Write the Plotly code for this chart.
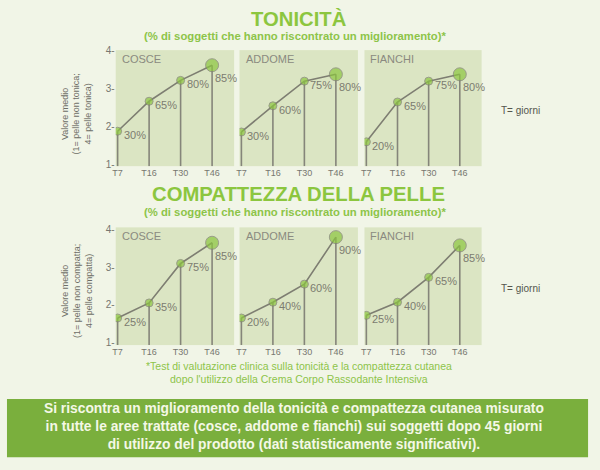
import plotly.graph_objects as go
from plotly.subplots import make_subplots

# dati
tempi = ["T7", "T16", "T30", "T46"]
zone = ["COSCE", "ADDOME", "FIANCHI"]

tonicita_cosce = [1.88, 2.67, 3.22, 3.62]
tonicita_addome = [1.86, 2.55, 3.20, 3.38]
tonicita_fianchi = [1.60, 2.65, 3.20, 3.38]
tonicita_pct_cosce = [30, 65, 80, 85]
tonicita_pct_addome = [30, 60, 75, 80]
tonicita_pct_fianchi = [20, 65, 75, 80]

compattezza_cosce = [1.65, 2.05, 3.10, 3.65]
compattezza_addome = [1.65, 2.07, 2.55, 3.80]
compattezza_fianchi = [1.72, 2.07, 2.73, 3.58]
compattezza_pct_cosce = [25, 35, 75, 85]
compattezza_pct_addome = [20, 40, 60, 90]
compattezza_pct_fianchi = [25, 40, 65, 85]

y_ticks = [1, 2, 3, 4]
y_ticktext = ["1-", "2-", "3-", "4-"]

W, H = 600, 470
FONT = "Liberation Sans, Arial, sans-serif"
VERDE = "#8cc63f"
VERDE_TXT = "#8dc449"
GRIGIO = "#7e7e72"
SFONDO = "#f1f5e7"
PANNELLO = "#dbe5c3"

def px_x(v):
    return v / W

def px_y(v):
    return 1 - v / H

def testo(t, x, y, size, color, **kw):
    # annotazione di testo in coordinate pixel della pagina
    opts = dict(xanchor="center", yanchor="middle")
    opts.update(kw)
    fig.add_annotation(x=px_x(x), y=px_y(y), xref="paper", yref="paper",
                       text=t, showarrow=False,
                       font=dict(family=FONT, size=size, color=color), **opts)

fig = make_subplots(rows=2, cols=3)

x_domains = [(113.3, 232.3), (237.7, 356.7), (363.3, 481.0)]
y_domains = [(46.0, 164.3), (226.7, 346.7)]
y_ranges = [[0.959, 4.018], [0.93, 4.06]]

righe = [
    ([tonicita_cosce, tonicita_addome, tonicita_fianchi],
     [tonicita_pct_cosce, tonicita_pct_addome, tonicita_pct_fianchi]),
    ([compattezza_cosce, compattezza_addome, compattezza_fianchi],
     [compattezza_pct_cosce, compattezza_pct_addome, compattezza_pct_fianchi]),
]

pos = list(range(len(tempi)))

for r, (valori, percentuali) in enumerate(righe):
    base = y_ranges[r][0]
    for c in range(3):
        vals = valori[c]
        pct = percentuali[c]
        # linee verticali fino alla base
        vx, vy = [], []
        for i, v in enumerate(vals):
            vx += [i, i, None]
            vy += [base, v, None]
        fig.add_trace(go.Scatter(x=vx, y=vy, mode="lines",
                                 line=dict(color="#85857a", width=1.6),
                                 hoverinfo="skip", showlegend=False),
                      row=r + 1, col=c + 1)
        # linea che collega i punti
        fig.add_trace(go.Scatter(x=pos, y=vals, mode="lines+markers",
                                 line=dict(color=GRIGIO, width=1.6),
                                 marker=dict(color=VERDE, size=[8, 8, 8, 13]),
                                 showlegend=False),
                      row=r + 1, col=c + 1)
        xa = "x" if (r * 3 + c) == 0 else "x%d" % (r * 3 + c + 1)
        ya = "y" if (r * 3 + c) == 0 else "y%d" % (r * 3 + c + 1)
        for i, v in enumerate(vals):
            big = i == len(vals) - 1
            fig.add_annotation(x=i, y=v, xref=xa, yref=ya,
                               text="%d%%" % pct[i], showarrow=False,
                               xanchor="left", yanchor="middle",
                               xshift=1 if big else 4,
                               yshift=-13 if big else -4,
                               font=dict(family=FONT, size=11, color="#7c7c70"))
        # nome della zona
        fig.add_annotation(x=0, y=1, xref=xa + " domain", yref=ya + " domain",
                           text=zone[c], showarrow=False,
                           xanchor="left", yanchor="top", xshift=4, yshift=-1,
                           font=dict(family=FONT, size=11, color="#8a8a80"))
        fig.update_xaxes(domain=[px_x(x_domains[c][0]), px_x(x_domains[c][1])],
                         range=[-0.06, 3.7], tickvals=pos, ticktext=tempi,
                         showgrid=False, zeroline=False, showline=False,
                         tickfont=dict(family=FONT, size=9, color="#777770"),
                         row=r + 1, col=c + 1)
        fig.update_yaxes(domain=[px_y(y_domains[r][1]), px_y(y_domains[r][0])],
                         range=y_ranges[r], tickvals=y_ticks, ticktext=y_ticktext,
                         showticklabels=(c == 0),
                         showgrid=False, zeroline=False, showline=False,
                         tickfont=dict(family=FONT, size=10, color="#777770"),
                         row=r + 1, col=c + 1)

# titoli
titoli = [("TONICITÀ", 14, 31.5), ("COMPATTEZZA DELLA PELLE", 193, 211)]
for t, y_tit, y_sub in titoli:
    testo("<b>%s</b>" % t, 297, y_tit, 20.3, VERDE)
    testo("<b>(% di soggetti che hanno riscontrato un miglioramento)*</b>",
          293, y_sub, 11.3, VERDE_TXT)

# titoli asse y
assi_y = [("Valore medio<br>(1= pelle non tonica;<br>4= pelle tonica)", 111),
          ("Valore medio<br>(1= pelle non compatta;<br>4= pelle compatta)", 292)]
for t, yc in assi_y:
    testo(t, 74, yc, 9, "#6e6e66", textangle=-90)

for yc in [108, 289]:
    testo("T= giorni", 498, yc, 10, "#55554d", xanchor="left")

# nota
testo("*Test di valutazione clinica sulla tonicità e la compattezza cutanea",
      297, 368, 10.5, VERDE_TXT)
testo("dopo l'utilizzo della Crema Corpo Rassodante Intensiva",
      297, 381, 10.5, VERDE_TXT)

# riquadro verde
fig.add_shape(type="rect", xref="paper", yref="paper",
              x0=px_x(4), x1=px_x(588), y0=px_y(461), y1=px_y(401.7),
              fillcolor="#7aaf3d", line=dict(width=0), layer="below")
righe_box = ["Si riscontra un miglioramento della tonicità e compattezza cutanea misurato",
             "in tutte le aree trattate (cosce, addome e fianchi) sui soggetti dopo 45 giorni",
             "di utilizzo del prodotto (dati statisticamente significativi)."]
testo("<b>%s</b>" % "<br>".join(righe_box), 292, 430, 13.8, "#f4f8e6")

fig.update_layout(width=W, height=H, margin=dict(l=0, r=0, t=0, b=0),
                  paper_bgcolor=SFONDO, plot_bgcolor=PANNELLO,
                  showlegend=False, hovermode="closest")

fig.write_html("out.html", config={"displayModeBar": False},
               post_script="document.body.style.margin='0';")
